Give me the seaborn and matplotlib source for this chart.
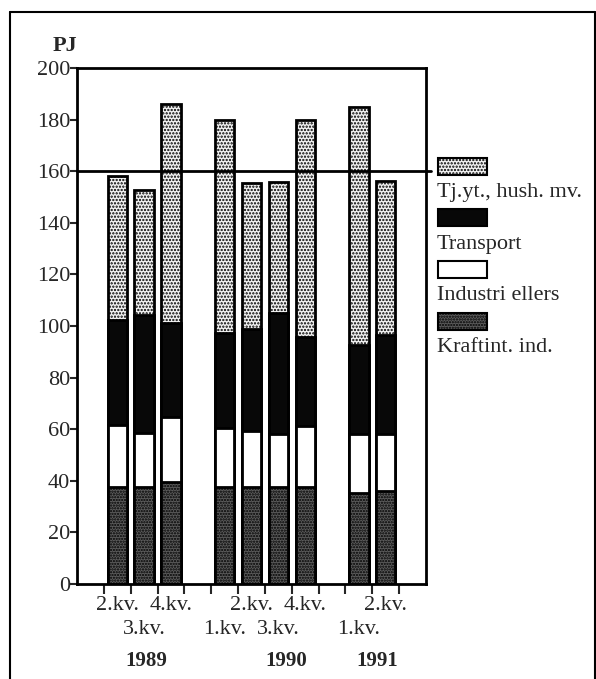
import numpy as np
import pandas as pd
import seaborn as sns
import matplotlib.pyplot as plt
from matplotlib.patches import Rectangle
from matplotlib.lines import Line2D
from matplotlib.transforms import blended_transform_factory

# quarterly energy use (PJ)
years = [1989, 1989, 1989, 1990, 1990, 1990, 1990, 1991, 1991]
quarters = ["2.kv.", "3.kv.", "4.kv.", "1.kv.", "2.kv.", "3.kv.", "4.kv.", "1.kv.", "2.kv."]
kraftint = [37.7, 37.5, 39.7, 37.5, 37.5, 37.5, 37.5, 35.1, 36.2]
industri = [23.9, 20.9, 25.2, 22.8, 21.9, 20.6, 23.7, 23.0, 21.9]
transport = [40.7, 45.9, 36.4, 36.9, 39.4, 47.1, 34.7, 34.5, 38.4]
tjanst = [55.8, 48.4, 84.7, 82.8, 56.5, 50.7, 84.1, 92.4, 59.8]

series_names = ["Kraftint. ind.", "Industri ellers", "Transport", "Tj.yt., hush. mv."]
series_vals = [kraftint, industri, transport, tjanst]
# face colour, hatch
styles = {
    "Kraftint. ind.": ("#5c5c5c", "......"),
    "Industri ellers": ("white", None),
    "Transport": ("#080808", None),
    "Tj.yt., hush. mv.": ("#f2f2f2", "....."),
}

# slot order along the x axis, with empty slots between the years
order = ["g0"] + [f"1989 {q}" for q in ["2.kv.", "3.kv.", "4.kv."]] + ["g1"] \
    + [f"1990 {q}" for q in ["1.kv.", "2.kv.", "3.kv.", "4.kv."]] + ["g2"] \
    + [f"1991 {q}" for q in ["1.kv.", "2.kv."]] + ["g3"]

df = pd.DataFrame({"year": years, "quarter": quarters})
df["slot"] = df["year"].astype(str) + " " + df["quarter"]
for name, vals in zip(series_names, series_vals):
    df[name] = vals
df_cum = df[series_names].cumsum(axis=1)

sns.set_style("white")
plt.rcParams["font.family"] = ["Liberation Serif", "DejaVu Serif"]
plt.rcParams["hatch.linewidth"] = 1.1

fig = plt.figure(figsize=(5.96, 6.79), dpi=100)
ax = fig.add_axes([77 / 596, 1 - 584 / 679, (426 - 77) / 596, (584 - 68) / 679])

# stacked bars: draw cumulative totals from the top layer down
for name in reversed(series_names):
    fc, hatch = styles[name]
    sns.barplot(x=df["slot"], y=df_cum[name], order=order, ax=ax, color=fc,
                saturation=1, errorbar=None, width=0.72, edgecolor="black",
                linewidth=2, hatch=hatch)

ax.axhline(160, color="black", lw=2, xmax=1.015, clip_on=False)

ax.set_ylim(0, 200)
ax.set_xlim(-0.5, len(order) - 0.5)
ax.set_yticks(np.arange(0, 201, 20))
ax.tick_params(axis="y", direction="out", length=5, width=1.5, pad=0, labelsize=16, left=True)

# major ticks between slots, labels at the bars (staggered in two rows)
ax.set_xticks(np.arange(0.5, len(order) - 1, 1))
ax.set_xticklabels([])
pos = [order.index(s) for s in df["slot"]]
ax.set_xticks(pos, minor=True)
ax.set_xticklabels(quarters, minor=True, fontsize=16)
ax.tick_params(axis="x", which="major", direction="out", length=7, width=1.5, bottom=True)
ax.tick_params(axis="x", which="minor", length=0)
for tick, q in zip(ax.xaxis.get_minor_ticks(), quarters):
    tick.set_pad(9 if q[0] in "24" else 26)
ax.set_xlabel("")
ax.set_ylabel("")
for sp in ax.spines.values():
    sp.set_visible(True)
    sp.set_color("black")
    sp.set_linewidth(2)

# year labels
year_x = {1989: 2.1, 1990: 7.3, 1991: 10.7}
trans = blended_transform_factory(ax.transData, fig.transFigure)
for yr, xv in year_x.items():
    ax.text(xv, 1 - 661 / 679, str(yr), transform=trans,
            ha="center", va="center", fontsize=15, fontweight="bold")

fig.text(65 / 596, 1 - 46 / 679, "PJ", ha="center", va="center", fontsize=16, fontweight="bold")

# legend: swatch with its label underneath
leg_top = [158, 209, 261, 313]
for name, top in zip(reversed(series_names), leg_top):
    fc, hatch = styles[name]
    fig.patches.append(Rectangle((438 / 596, 1 - (top + 17) / 679), 49 / 596, 17 / 679,
                                 transform=fig.transFigure, facecolor=fc, edgecolor="black",
                                 lw=1.5, hatch=hatch))
    fig.text(437 / 596, 1 - (top + 35) / 679, name, ha="left", va="center", fontsize=16)

# outer frame (open at the bottom)
fx0, fx1, fy = 10 / 596, 594.5 / 596, 1 - 12 / 679
for xs, ys in [([fx0, fx0], [0, fy]), ([fx0, fx1], [fy, fy]), ([fx1, fx1], [fy, 0])]:
    fig.add_artist(Line2D(xs, ys, color="black", lw=1.5, transform=fig.transFigure))

fig.savefig("out.png", dpi=100)
